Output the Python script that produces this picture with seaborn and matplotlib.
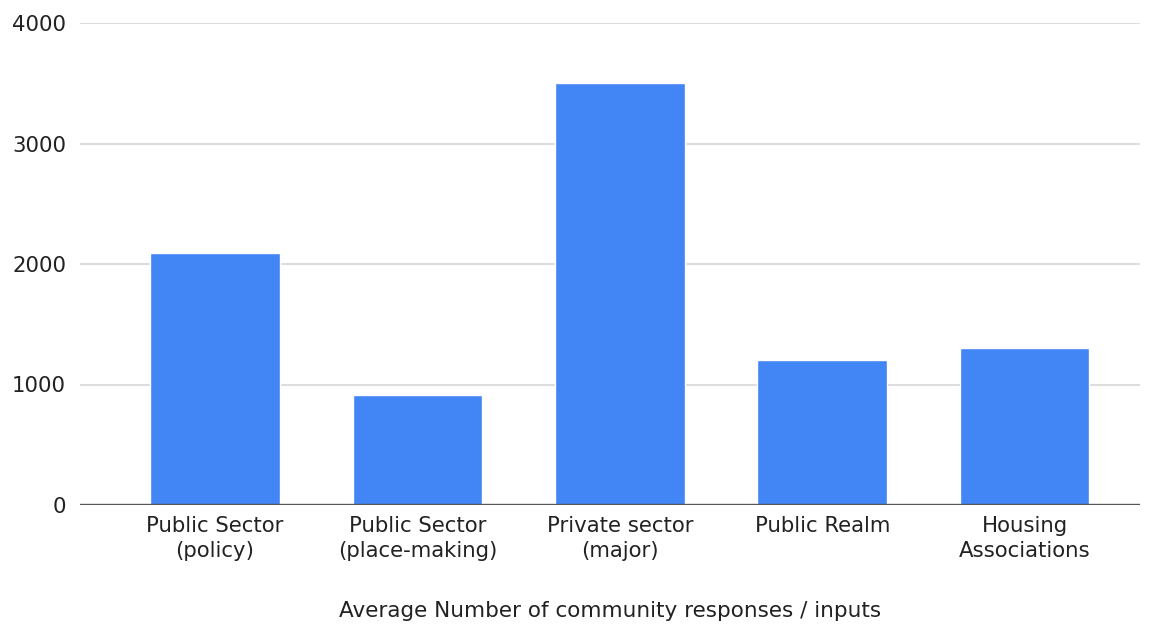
import matplotlib
matplotlib.use("Agg")
import matplotlib.pyplot as plt
import seaborn as sns
import pandas as pd

# values
categories = [
    "Public Sector\n(policy)",
    "Public Sector\n(place-making)",
    "Private sector\n(major)",
    "Public Realm",
    "Housing\nAssociations",
]
responses = [2090, 910, 3500, 1200, 1300]
y_ticks = [0, 1000, 2000, 3000, 4000]

df = pd.DataFrame({"sector": categories, "responses": responses})

sns.set_style("white")
plt.rcParams["font.family"] = ["DejaVu Sans"]

fig = plt.figure(figsize=(11.54, 6.26), dpi=100)
ax = fig.add_axes([80 / 1154, 121 / 626, 1060 / 1154, 482 / 626])

sns.barplot(data=df, x="sector", y="responses", color="#4285F4",
            saturation=1, width=0.64, ax=ax)

ax.set_ylim(0, 4000)
ax.set_xlim(-0.667, 4.57)
ax.set_yticks(y_ticks)
ax.set_yticklabels([str(t) for t in y_ticks])
ax.yaxis.grid(True, color="#dddddd", linewidth=1.5)
ax.set_axisbelow(True)
ax.axhline(0, color="#555555", linewidth=2.4, zorder=5)

for s in ax.spines.values():
    s.set_visible(False)

ax.tick_params(axis="both", length=0, labelsize=15.3, colors="#222222")
ax.tick_params(axis="x", pad=8)
ax.tick_params(axis="y", pad=10)
for lbl in ax.get_xticklabels():
    lbl.set_linespacing(1.3)

ax.set_ylabel("")
ax.set_xlabel("Average Number of community responses / inputs",
              fontsize=15.5, color="#222222", labelpad=29)

fig.savefig("out.png", dpi=100)
